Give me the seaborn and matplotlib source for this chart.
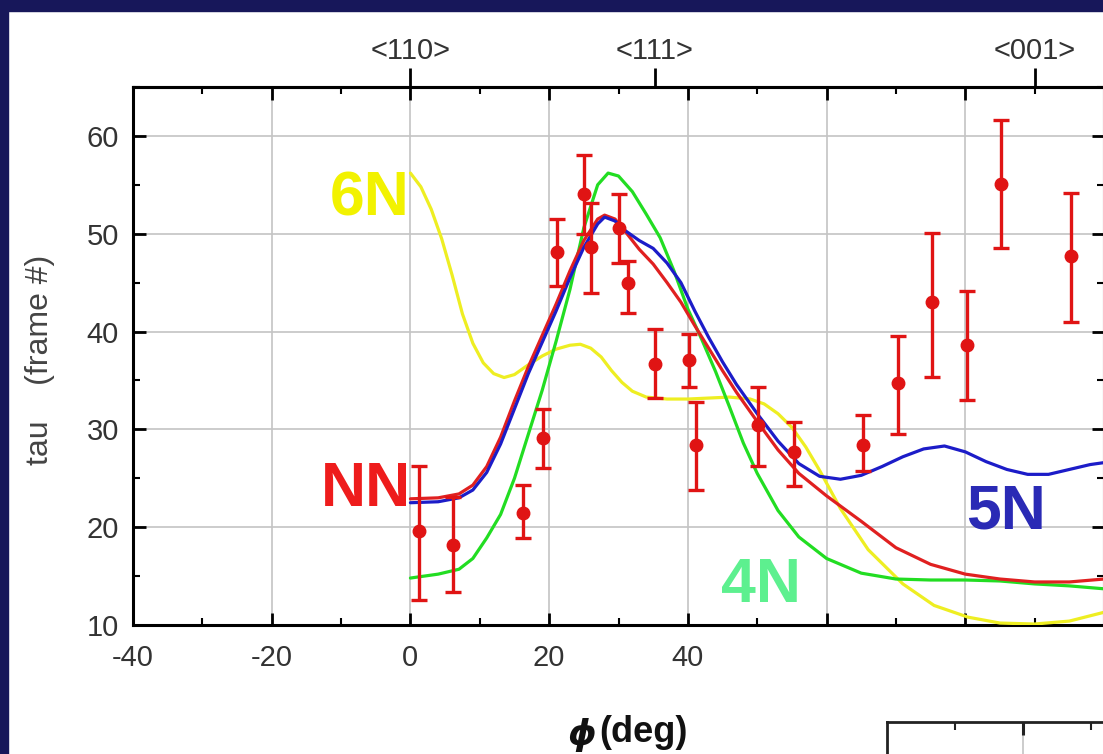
import matplotlib
matplotlib.use('Agg')
import numpy as np
import pandas as pd
import matplotlib.pyplot as plt
import seaborn as sns
from matplotlib import font_manager
from matplotlib.patches import Rectangle
from matplotlib.ticker import MultipleLocator, FixedLocator

# ---------------- data ----------------
pts_phi = [1.2, 6.1, 16.2, 19.1, 21.2, 25.0, 26.1, 30.0, 31.3, 35.3, 40.1, 41.2,
           50.1, 55.3, 65.3, 70.3, 75.2, 80.3, 85.2, 95.3]
pts_tau = [19.6, 18.2, 21.5, 29.1, 48.1, 54.1, 48.6, 50.6, 45.0, 36.7, 37.1, 28.4,
           30.4, 27.7, 28.4, 34.7, 43.0, 38.6, 55.1, 47.7]
pts_lo = [12.6, 13.4, 18.9, 26.0, 44.7, 50.0, 43.9, 47.0, 41.9, 33.2, 34.3, 23.8,
          26.3, 24.2, 25.7, 29.5, 35.4, 33.0, 48.5, 41.0]
pts_hi = [26.3, 23.1, 24.3, 32.1, 51.5, 58.0, 53.1, 54.1, 47.2, 40.3, 39.8, 32.8,
          34.3, 30.8, 31.5, 39.5, 50.1, 44.1, 61.6, 54.2]

nn_phi = [0, 4, 7, 9, 11, 13, 15, 17, 19, 21, 23, 25, 27, 28, 29.5, 31, 33, 35, 37, 39,
          41, 43, 45, 47, 50, 53, 56, 60, 65, 70, 75, 80, 85, 90, 95, 100]
nn_tau = [22.9, 23.0, 23.4, 24.3, 26.2, 29.2, 32.9, 36.4, 39.6, 42.8, 46.2, 49.3, 51.5,
          51.9, 51.5, 50.2, 48.4, 46.9, 45.0, 43.0, 40.6, 38.3, 36.0, 33.8, 30.8, 27.9,
          25.5, 23.2, 20.6, 17.9, 16.2, 15.2, 14.7, 14.4, 14.4, 14.7]

n5_phi = [0, 4, 7, 9, 11, 13, 15, 17, 19, 21, 23, 25, 27, 28, 29.5, 31, 33, 35, 37, 39,
          41, 43, 45, 47, 50, 53, 56, 59, 62, 65, 68, 71, 74, 77, 80, 83, 86, 89, 92,
          95, 98, 100]
n5_tau = [22.5, 22.6, 23.0, 23.8, 25.6, 28.5, 32.1, 35.7, 38.9, 42.1, 45.5, 48.6, 51.0,
          51.7, 51.3, 50.3, 49.3, 48.5, 47.0, 45.0, 42.1, 39.4, 36.9, 34.6, 31.6, 28.8,
          26.5, 25.2, 24.9, 25.3, 26.2, 27.2, 28.0, 28.3, 27.7, 26.7, 25.9, 25.4, 25.4,
          25.9, 26.4, 26.6]

n4_phi = [0, 4, 7, 9, 11, 13, 15, 17, 19, 21, 23, 25, 27, 28.5, 30, 32, 34, 36, 38, 40,
          42, 44, 46, 48, 50, 53, 56, 60, 65, 70, 75, 80, 85, 90, 95, 100]
n4_tau = [14.8, 15.2, 15.7, 16.8, 18.9, 21.3, 25.0, 29.5, 34.0, 39.0, 44.3, 50.6, 55.0,
          56.2, 55.9, 54.3, 52.0, 49.6, 46.2, 42.3, 39.2, 35.9, 32.3, 28.6, 25.5, 21.7,
          19.0, 16.8, 15.3, 14.7, 14.6, 14.6, 14.5, 14.2, 14.0, 13.7]

n6_phi = [0, 1.5, 3, 4.5, 6, 7.5, 9, 10.5, 12, 13.5, 15, 17, 19, 21, 23, 24.5, 26, 27.5,
          29, 30.5, 32, 34, 37, 40, 43, 46, 49, 51, 53, 55, 57, 59, 62, 66, 71, 75.5,
          80.4, 85, 90, 95, 100]
n6_tau = [56.2, 54.8, 52.5, 49.5, 45.8, 41.8, 38.8, 36.8, 35.7, 35.3, 35.6, 36.6, 37.5,
          38.2, 38.6, 38.7, 38.3, 37.4, 36.0, 34.8, 33.9, 33.3, 33.1, 33.1, 33.2, 33.3,
          33.1, 32.6, 31.6, 30.2, 28.2, 25.8, 21.9, 17.7, 14.2, 12.0, 10.8, 10.2, 10.1,
          10.4, 11.3]

x_major = [-40, -20, 0, 20, 40, 60, 80, 100]
x_labels = ['-40', '-20', '0', '20', '40', '', '', '']
y_major = [10, 20, 30, 40, 50, 60]
top_pos = [0, 35.26, 90]
top_labels = ['<110>', '<111>', '<001>']

# ---------------- style ----------------
sns.set_theme(style='white')
names = {f.name for f in font_manager.fontManager.ttflist}
narrow = 'Liberation Sans Narrow' if 'Liberation Sans Narrow' in names else 'Liberation Sans'
plt.rcParams['font.family'] = ['Liberation Sans', 'DejaVu Sans']

W, H = 1103, 754
fig = plt.figure(figsize=(W / 100, H / 100), dpi=100, facecolor='white')

def fx(px):
    return px / W

def fy(py):
    return 1 - py / H

ax = fig.add_axes([fx(133), fy(625), fx(1104) - fx(133), fy(87) - fy(625)])
ax.set_facecolor('white')

curves = [
    (n6_phi, n6_tau, '#eeee22'),
    (n4_phi, n4_tau, '#22dd22'),
    (nn_phi, nn_tau, '#e02020'),
    (n5_phi, n5_tau, '#1c1cc8'),
]
for xs, ys, c in curves:
    df = pd.DataFrame({'phi': xs, 'tau': ys})
    sns.lineplot(data=df, x='phi', y='tau', ax=ax, color=c, lw=2.3,
                 sort=False, estimator=None, zorder=3)

t = np.array(pts_tau)
ax.errorbar(pts_phi, pts_tau, yerr=[t - np.array(pts_lo), np.array(pts_hi) - t],
            fmt='o', color='#e01414', ms=9, elinewidth=2.4, capsize=6,
            capthick=2.4, zorder=4)

ax.set_xlim(-40, 100)
ax.set_ylim(10, 65)
ax.set_xticks(x_major, x_labels)
ax.xaxis.set_minor_locator(MultipleLocator(10))
ax.set_yticks(y_major, [str(v) for v in y_major])
ax.yaxis.set_minor_locator(MultipleLocator(5))
ax.grid(True, which='major', color='#c4c4c4', lw=1.2, zorder=0)
ax.set_axisbelow(True)

ax.tick_params(which='both', direction='in', top=True, right=True, bottom=True,
               left=True, color='black')
ax.tick_params(which='major', length=9, width=2)
ax.tick_params(which='minor', length=5, width=1.5)
ax.tick_params(axis='x', which='major', pad=14, labelsize=21, labelcolor='#333333')
ax.tick_params(axis='y', which='major', pad=10, labelsize=21, labelcolor='#333333')
for lab in ax.get_xticklabels() + ax.get_yticklabels():
    lab.set_fontfamily([narrow, 'DejaVu Sans'])
for s in ax.spines.values():
    s.set_linewidth(2.2)
    s.set_color('black')

ax.set_xlabel('')
ax.set_ylabel('')

sec = ax.secondary_xaxis('top')
sec.set_xticks(top_pos, top_labels)
sec.minorticks_off()
sec.tick_params(direction='out', length=14, width=2, pad=2, labelsize=21,
                labelcolor='#333333', color='black')
for lab in sec.get_xticklabels():
    lab.set_fontfamily([narrow, 'DejaVu Sans'])
sec.spines['top'].set_linewidth(2.2)

# y label
fig.text(fx(40), fy(360), 'tau    (frame #)', rotation=90, ha='center', va='center',
         fontsize=23, color='#444444')
# x label
fig.text(fx(582), fy(735), '\u03d5', ha='center', va='center', fontsize=26,
         fontweight='bold', fontstyle='italic', family=['DejaVu Sans'], color='#111111')
fig.text(fx(599), fy(733), '(deg)', ha='left', va='center', fontsize=26,
         fontweight='bold', color='#111111')

# curve labels
lab_kw = dict(ha='center', va='center', fontsize=45, fontweight='bold')
fig.text(fx(370), fy(199), '6N', color='#f2f200', **lab_kw)
fig.text(fx(366), fy(490), 'NN', color='#ee1c1c', **lab_kw)
fig.text(fx(1006), fy(512), '5N', color='#2a2ab5', **lab_kw)
fig.text(fx(761), fy(585), '4N', color='#5df08f', **lab_kw)

# partially visible inset at bottom right
ax2 = fig.add_axes([fx(887), fy(800), fx(1200) - fx(887), fy(722) - fy(800)])
ax2.set_xlim(0, (1200 - 887) / 68)
ax2.set_ylim(0, 1)
ax2.set_xticks([2], [''])
ax2.set_xticks([1, 3], ['', ''], minor=True)
ax2.set_yticks([])
ax2.tick_params(which='both', direction='in', top=True, bottom=False, labeltop=False,
                labelbottom=False, color='#222222')
ax2.tick_params(which='major', length=9, width=2.2)
ax2.tick_params(which='minor', length=6, width=1.5)
ax2.grid(True, axis='x', which='major', color='#c4c4c4', lw=1.2)
for s in ax2.spines.values():
    s.set_linewidth(2)
    s.set_color('#222222')

# navy frame border
fig.patches.append(Rectangle((0, fy(11)), 1, 1 - fy(11), transform=fig.transFigure,
                             color='#17175a', zorder=10))
fig.patches.append(Rectangle((0, 0), fx(8), 1, transform=fig.transFigure,
                             color='#17175a', zorder=10))

fig.savefig('out.png', dpi=100, facecolor='white')
